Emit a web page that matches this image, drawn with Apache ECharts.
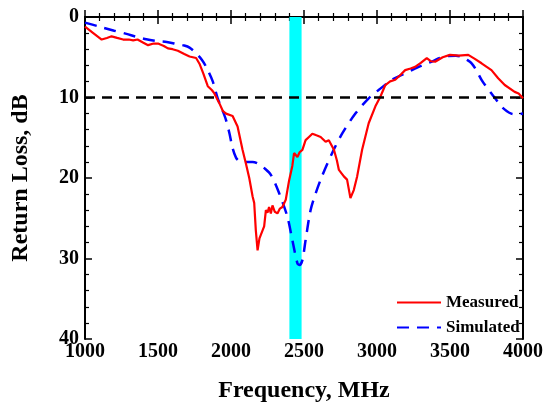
<!DOCTYPE html>
<html>
<head>
<meta charset="utf-8">
<script src="https://cdn.jsdelivr.net/npm/echarts@6/dist/echarts.min.js"></script>
<style>
  html, body { margin: 0; padding: 0; background: #fff; }
  #chart { width: 546px; height: 409px; }
</style>
</head>
<body>
<div id="chart"></div>
<script>
// Measured return loss (MHz, dB)
const measFreq = [1000, 1050, 1114, 1150, 1182, 1220, 1261, 1300, 1330, 1360, 1400, 1432, 1470, 1500, 1540, 1568, 1600, 1636, 1680, 1716,
    1761, 1784, 1810, 1841, 1870, 1886, 1920, 1945, 1966, 2011, 2045, 2079, 2102, 2125, 2148, 2159, 2170, 2182, 2195, 2205,
    2227, 2239, 2250, 2261, 2273, 2284, 2300, 2318, 2335, 2352, 2375, 2398, 2420, 2432, 2455, 2470, 2489, 2511, 2534, 2557,
    2585, 2614, 2648, 2670, 2705, 2725, 2739, 2773, 2795, 2818, 2841, 2864, 2898, 2943, 2989, 3023, 3057, 3090, 3125, 3160,
    3193, 3230, 3261, 3300, 3341, 3370, 3398, 3450, 3500, 3560, 3625, 3670, 3716, 3784, 3830, 3875, 3943, 3970, 4000];
const measRL = [1.2, 1.9, 2.8, 2.6, 2.4, 2.6, 2.8, 2.8, 2.9, 2.8, 3.2, 3.5, 3.3, 3.3, 3.6, 3.9, 4.0, 4.2, 4.6, 4.9,
    5.1, 5.8, 7.0, 8.6, 9.1, 9.5, 10.7, 11.7, 12.0, 12.3, 13.6, 16.5, 18.2, 20.0, 22.3, 23.1, 26.5, 29.0, 27.5, 27.3,
    26.0, 24.0, 24.3, 23.6, 24.4, 23.4, 24.2, 24.4, 23.8, 23.6, 22.7, 20.3, 18.5, 16.9, 17.4, 16.8, 16.5, 15.3, 14.9, 14.5,
    14.7, 14.9, 15.5, 15.3, 16.5, 17.8, 19.0, 19.8, 20.2, 22.5, 21.5, 19.8, 16.5, 13.2, 11.1, 9.9, 8.45, 8.0, 7.8, 7.2,
    6.6, 6.4, 6.2, 5.7, 5.1, 5.5, 5.55, 5.0, 4.7, 4.8, 4.7, 5.2, 5.75, 6.6, 7.6, 8.45, 9.3, 9.5, 10.1];

// Simulated return loss (MHz, dB)
const simFreq = [1000, 1100, 1200, 1284, 1350, 1420, 1500, 1560, 1625, 1680, 1716, 1761, 1800, 1830, 1875, 1909, 1940, 1966, 1990, 2011,
    2035, 2057, 2100, 2148, 2193, 2230, 2273, 2330, 2386, 2420, 2455, 2470, 2489, 2511, 2545, 2580, 2625, 2693, 2761, 2852,
    2943, 3011, 3102, 3170, 3239, 3310, 3375, 3430, 3489, 3540, 3580, 3615, 3648, 3680, 3716, 3750, 3784, 3852, 3890, 3920,
    3960, 4000];
const simRL = [0.7, 1.2, 1.7, 2.1, 2.45, 2.77, 3.0, 3.1, 3.35, 3.55, 3.8, 4.5, 5.3, 6.2, 8.0, 10.1, 11.5, 12.8, 14.5, 16.3,
    17.5, 17.9, 18.0, 18.0, 18.3, 18.8, 19.6, 21.9, 24.8, 27.7, 30.6, 30.8, 30.2, 27.7, 24.0, 21.9, 19.7, 16.9, 14.5, 12.0,
    10.1, 9.07, 7.8, 7.2, 6.6, 6.0, 5.55, 5.1, 4.84, 4.8, 4.95, 5.3, 5.75, 6.6, 7.8, 8.7, 9.5, 11.1, 11.7, 12.0,
    12.1, 12.0];

// 2.4 GHz ISM band and the 10 dB reference level
const bandMHz = [2400, 2483.5];
const refLevel = 10;

const font = 'Liberation Serif';

const pairs = (xs, ys) => xs.map((x, i) => [x, ys[i]]);

const baseX = {
    type: 'value', min: 1000, max: 4000, interval: 500,
    axisLine: { show: true, lineStyle: { color: '#000', width: 2 } },
    axisTick: { show: true, inside: true, length: 7, lineStyle: { color: '#000', width: 1.5 } },
    minorTick: { show: true, splitNumber: 5, length: 4, lineStyle: { color: '#000', width: 1.2 } },
    splitLine: { show: false }
};
const baseY = {
    type: 'value', min: 0, max: 40, interval: 10, inverse: true,
    axisLine: { show: true, lineStyle: { color: '#000', width: 2 } },
    axisTick: { show: true, inside: true, length: 7, lineStyle: { color: '#000', width: 1.5 } },
    minorTick: { show: true, splitNumber: 5, length: 4, lineStyle: { color: '#000', width: 1.2 } },
    splitLine: { show: false }
};

let chart = echarts.init(document.getElementById('chart'), null, { renderer: 'canvas' });
chart.setOption({
    backgroundColor: '#fff',
    animation: false,
    grid: { left: 85, right: 21, top: 17, bottom: 70 },
    xAxis: [
        Object.assign({}, baseX, {
            position: 'bottom',
            axisLabel: { color: '#000', fontFamily: font, fontWeight: 'bold', fontSize: 20, margin: 3,
                formatter: v => String(v) },
            name: 'Frequency, MHz', nameLocation: 'middle', nameGap: 40,
            nameTextStyle: { color: '#000', fontFamily: font, fontWeight: 'bold', fontSize: 24 }
        }),
        Object.assign({}, baseX, { position: 'top', axisLabel: { show: false } })
    ],
    yAxis: [
        Object.assign({}, baseY, {
            position: 'left',
            axisLabel: { color: '#000', fontFamily: font, fontWeight: 'bold', fontSize: 20, margin: 6 },
            name: 'Return Loss, dB', nameLocation: 'middle', nameGap: 52, nameRotate: 90,
            nameTextStyle: { color: '#000', fontFamily: font, fontWeight: 'bold', fontSize: 24 }
        }),
        Object.assign({}, baseY, { position: 'right', axisLabel: { show: false } })
    ],
    legend: {
        orient: 'vertical', left: 391, top: 289,
        itemWidth: 44, itemHeight: 14, itemGap: 8,
        itemStyle: { opacity: 0 },
        data: ['Measured', 'Simulated'],
        textStyle: { color: '#000', fontFamily: font, fontWeight: 'bold', fontSize: 17 }
    },
    series: [
        {
            type: 'line', data: [], silent: true, z: 1,
            markArea: {
                silent: true,
                itemStyle: { color: '#00ffff', opacity: 1 },
                data: [[{ xAxis: bandMHz[0] }, { xAxis: bandMHz[1] }]]
            },
            markLine: {
                silent: true, symbol: 'none', label: { show: false },
                lineStyle: { color: '#000', width: 2.5, type: [10, 7] },
                data: [{ yAxis: refLevel }]
            }
        },
        {
            name: 'Simulated', type: 'line', data: pairs(simFreq, simRL), smooth: 0.3,
            showSymbol: false, symbol: 'none', z: 3,
            lineStyle: { color: '#0000ff', width: 2.5, type: [12, 8] },
            itemStyle: { color: '#0000ff' }
        },
        {
            name: 'Measured', type: 'line', data: pairs(measFreq, measRL),
            showSymbol: false, symbol: 'none', z: 4,
            lineStyle: { color: '#ff0000', width: 2.2 },
            itemStyle: { color: '#ff0000' }
        }
    ]
});
</script>
</body>
</html>
